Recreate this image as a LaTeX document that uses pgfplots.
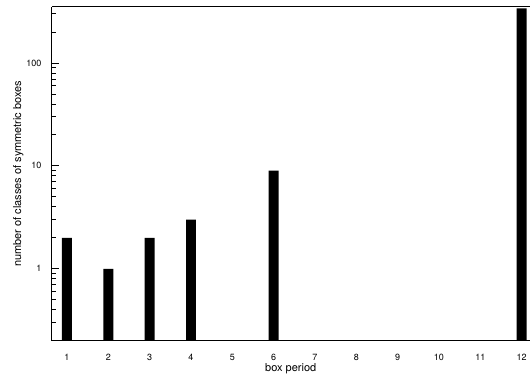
\documentclass[border=0pt]{standalone}
\usepackage{fontspec}
\setmainfont{TeX Gyre Heros}
\usepackage{pgfplots}
\pgfplotsset{compat=1.18}
\begin{document}
\begin{tikzpicture}
\begin{axis}[
  name=ax,
  scale only axis,
  width=478pt, height=334pt,
  ymode=log,
  log origin=infty,
  ymin=0.2, ymax=350,
  xmin=0.637, xmax=12.19,
  axis x line=box,
  axis y line=left,
  xtick={1,2,3,4,5,6,7,8,9,10,11,12},
  ytick={1,10,100},
  yticklabels={1,10,100},
  minor ytick={0.2,0.3,0.4,0.5,0.6,0.7,0.8,0.9,2,3,4,5,6,7,8,9,20,30,40,50,60,70,80,90,200,300},
  xtick pos=bottom, ytick pos=left,
  tick align=inside,
  major tick length=7pt,
  minor tick length=4pt,
  x tick style={draw=none},
  tick style={line width=0.8pt, black},
  axis line style={-, line width=1pt, black},
  /pgf/number format/assume math mode=true,
  ticklabel style={font=\fontsize{9}{10}\selectfont},
  yticklabel style={xshift=-7pt},
  xticklabel style={yshift=-3pt},
  xlabel={box period},
  ylabel={number of classes of symmetric boxes},
  label style={font=\fontsize{11}{13}\selectfont},
  xlabel style={yshift=4pt},
  ylabel style={yshift=-4pt},
  ybar,
  bar width=0.24,
  clip=true,
]
\addplot[fill=black, draw=none] coordinates {
  (1,2) (2,1) (3,2) (4,3) (6,9) (12,340)
};
\end{axis}
\path (ax.south west) ++(-52pt,-40pt) coordinate (bl);
\path (ax.north east) ++(0pt,7pt) coordinate (tr);
\useasboundingbox (bl) rectangle (tr);
\end{tikzpicture}
\end{document}
